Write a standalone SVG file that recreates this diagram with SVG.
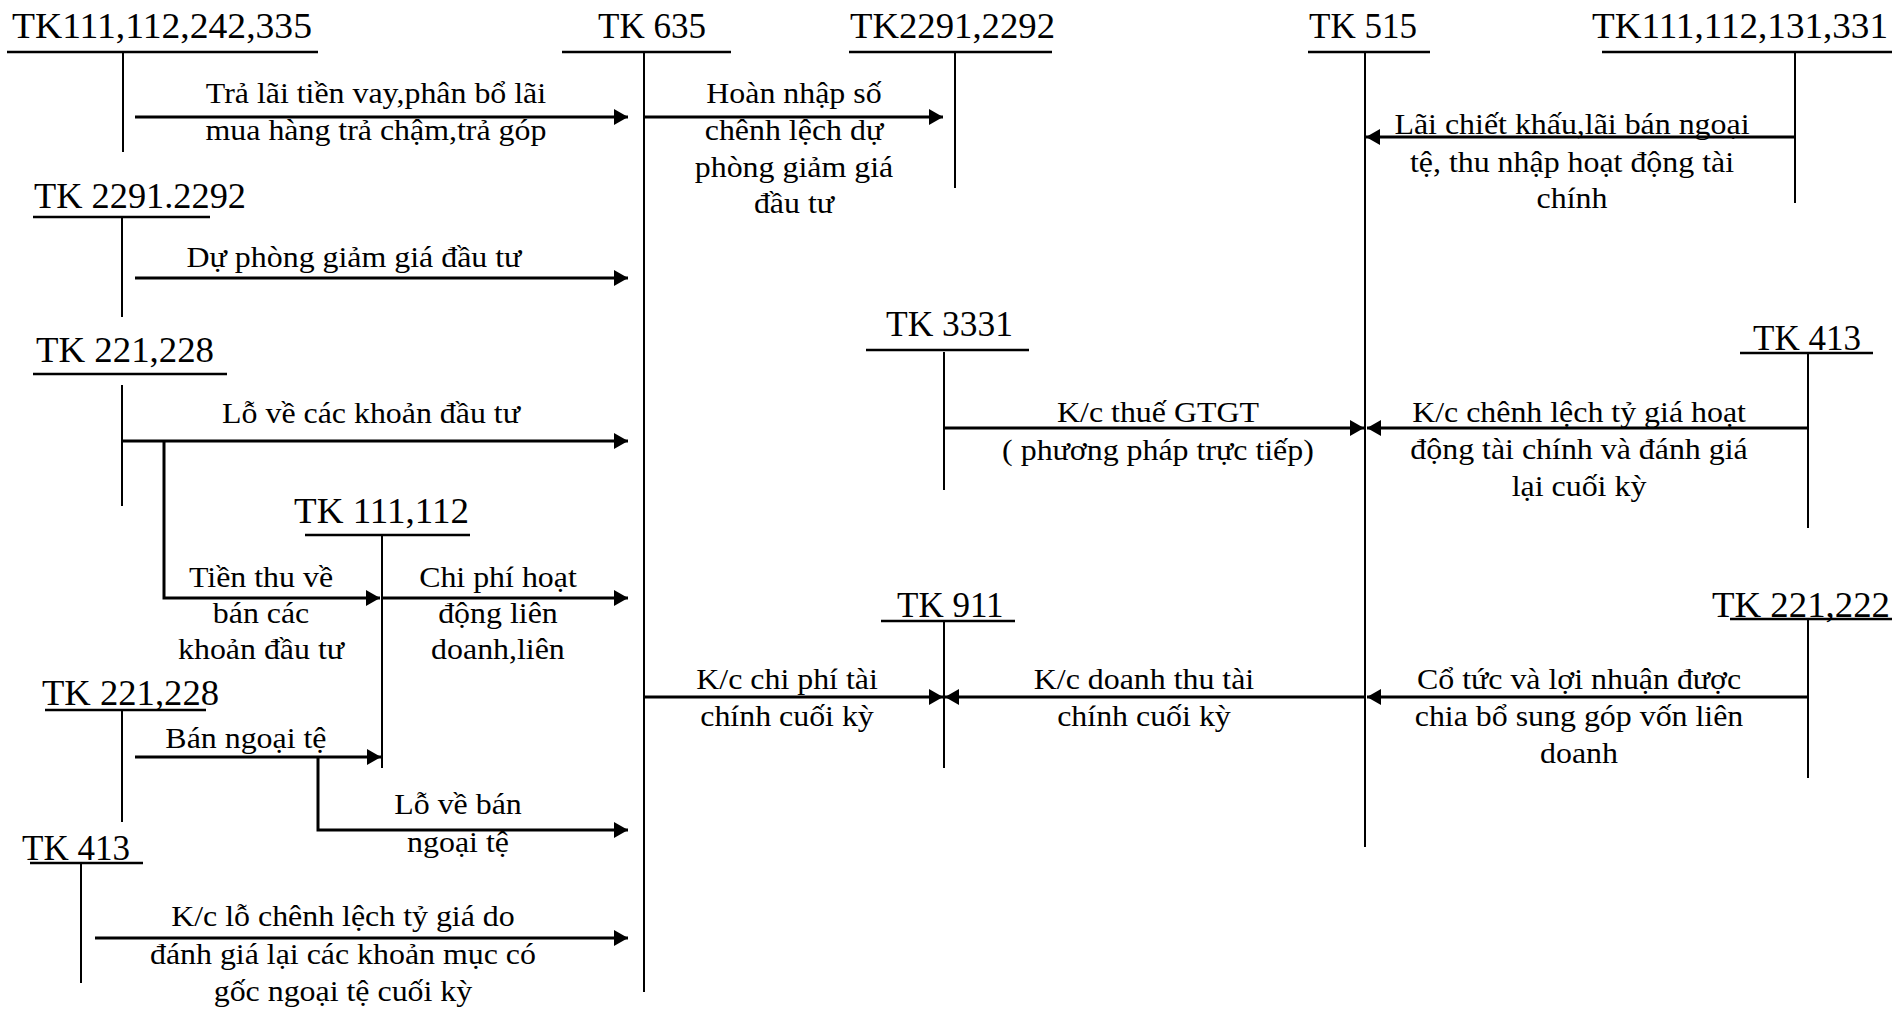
<svg xmlns="http://www.w3.org/2000/svg" width="1892" height="1009" viewBox="0 0 1892 1009">
<style>
text{font-family:"Liberation Serif","Times New Roman",serif;fill:#000}
.t{font-size:35px}
.l{font-size:29px;text-anchor:middle}
.u{stroke:#000;stroke-width:2.5}
.v{stroke:#000;stroke-width:2}
.a{stroke:#000;stroke-width:3;fill:none}
.ae{marker-end:url(#ah)}
</style>
<defs>
<marker id="ah" markerUnits="userSpaceOnUse" markerWidth="16" markerHeight="18" refX="14" refY="8" orient="auto">
<path d="M0,0 L14,8 L0,16 z" fill="#000"/>
</marker>
</defs>
<rect width="1892" height="1009" fill="#fff"/>

<g id="tk111-112-242-335"><text class="t" x="12" y="38" textLength="300" lengthAdjust="spacingAndGlyphs">TK111,112,242,335</text><line class="u" x1="7" y1="52" x2="318" y2="52"/><line class="v" x1="123" y1="52" x2="123" y2="152"/></g>
<g id="tk635"><text class="t" x="598" y="38">TK 635</text><line class="u" x1="562" y1="52" x2="731" y2="52"/><line class="v" x1="644" y1="52" x2="644" y2="992"/></g>
<g id="tk2291-2292-top"><text class="t" x="850" y="38" textLength="205" lengthAdjust="spacingAndGlyphs">TK2291,2292</text><line class="u" x1="849" y1="52" x2="1052" y2="52"/><line class="v" x1="955" y1="52" x2="955" y2="188"/></g>
<g id="tk515"><text class="t" x="1309" y="38">TK 515</text><line class="u" x1="1308" y1="52" x2="1430" y2="52"/><line class="v" x1="1365" y1="52" x2="1365" y2="847"/></g>
<g id="tk111-112-131-331"><text class="t" x="1592" y="38" textLength="296" lengthAdjust="spacingAndGlyphs">TK111,112,131,331</text><line class="u" x1="1602" y1="52" x2="1892" y2="52"/><line class="v" x1="1795" y1="52" x2="1795" y2="203"/></g>
<g id="tk2291-2292-left"><text class="t" x="34" y="208" textLength="212" lengthAdjust="spacingAndGlyphs">TK 2291.2292</text><line class="u" x1="33" y1="217" x2="210" y2="217"/><line class="v" x1="122" y1="217" x2="122" y2="317"/></g>
<g id="tk221-228-a"><text class="t" x="36" y="362" textLength="178" lengthAdjust="spacingAndGlyphs">TK 221,228</text><line class="u" x1="33" y1="374" x2="227" y2="374"/><line class="v" x1="122" y1="385" x2="122" y2="506"/></g>
<g id="tk111-112"><text class="t" x="294" y="523" textLength="175" lengthAdjust="spacingAndGlyphs">TK 111,112</text><line class="u" x1="305" y1="535" x2="470" y2="535"/><line class="v" x1="382" y1="535" x2="382" y2="768"/></g>
<g id="tk221-228-b"><text class="t" x="42" y="705" textLength="177" lengthAdjust="spacingAndGlyphs">TK 221,228</text><line class="u" x1="45" y1="710" x2="206" y2="710"/><line class="v" x1="122" y1="710" x2="122" y2="822"/></g>
<g id="tk413-left"><text class="t" x="22" y="860">TK 413</text><line class="u" x1="30" y1="863" x2="143" y2="863"/><line class="v" x1="81" y1="863" x2="81" y2="983"/></g>
<g id="tk3331"><text class="t" x="886" y="336" textLength="127" lengthAdjust="spacingAndGlyphs">TK 3331</text><line class="u" x1="866" y1="350" x2="1029" y2="350"/><line class="v" x1="944" y1="352" x2="944" y2="490"/></g>
<g id="tk413-right"><text class="t" x="1753" y="350">TK 413</text><line class="u" x1="1740" y1="353" x2="1873" y2="353"/><line class="v" x1="1808" y1="353" x2="1808" y2="528"/></g>
<g id="tk911"><text class="t" x="897" y="617">TK 911</text><line class="u" x1="881" y1="621" x2="1015" y2="621"/><line class="v" x1="944" y1="621" x2="944" y2="768"/></g>
<g id="tk221-222"><text class="t" x="1712" y="617" textLength="178" lengthAdjust="spacingAndGlyphs">TK 221,222</text><line class="u" x1="1730" y1="619" x2="1892" y2="619"/><line class="v" x1="1808" y1="619" x2="1808" y2="778"/></g>

<g id="connectors">
<path class="a ae" d="M135,117 H628"/>
<path class="a ae" d="M644,117 H943"/>
<path class="a ae" d="M1795,137 H1366"/>
<path class="a ae" d="M135,278 H628"/>
<path class="a ae" d="M122,441 H628"/>
<path class="a ae" d="M164,441 V598 H380"/>
<path class="a ae" d="M382,598 H628"/>
<path class="a ae" d="M135,757 H381"/>
<path class="a ae" d="M318,757 V830 H628"/>
<path class="a ae" d="M95,938 H628"/>
<path class="a ae" d="M944,428 H1364"/>
<path class="a ae" d="M1808,428 H1367"/>
<path class="a ae" d="M644,697 H943"/>
<path class="a ae" d="M1365,697 H945"/>
<path class="a ae" d="M1808,697 H1367"/>
</g>

<g id="labels" transform="scale(1.1,1)">
<text class="l" x="341.8" y="103">Trả lãi tiền vay,phân bổ lãi</text>
<text class="l" x="341.8" y="140">mua hàng trả chậm,trả góp</text>
<text class="l" x="721.8" y="103">Hoàn nhập số</text>
<text class="l" x="721.8" y="140">chênh lệch dự</text>
<text class="l" x="721.8" y="177">phòng giảm giá</text>
<text class="l" x="721.8" y="213">đầu tư</text>
<text class="l" x="1429.1" y="134">Lãi chiết khấu,lãi bán ngoại</text>
<text class="l" x="1429.1" y="172">tệ, thu nhập hoạt động tài</text>
<text class="l" x="1429.1" y="208">chính</text>
<text class="l" x="321.8" y="267">Dự phòng giảm giá đầu tư</text>
<text class="l" x="337.3" y="423">Lỗ về các khoản đầu tư</text>
<text class="l" x="237.3" y="587">Tiền thu về</text>
<text class="l" x="237.3" y="623">bán các</text>
<text class="l" x="237.3" y="659">khoản đầu tư</text>
<text class="l" x="452.7" y="587">Chi phí hoạt</text>
<text class="l" x="452.7" y="623">động liên</text>
<text class="l" x="452.7" y="659">doanh,liên</text>
<text class="l" x="223.6" y="748">Bán ngoại tệ</text>
<text class="l" x="416.4" y="814">Lỗ về bán</text>
<text class="l" x="416.4" y="852">ngoại tệ</text>
<text class="l" x="311.8" y="926">K/c lỗ chênh lệch tỷ giá do</text>
<text class="l" x="311.8" y="964">đánh giá lại các khoản mục có</text>
<text class="l" x="311.8" y="1001">gốc ngoại tệ cuối kỳ</text>
<text class="l" x="1052.7" y="422">K/c thuế GTGT</text>
<text class="l" x="1052.7" y="460">( phương pháp trực tiếp)</text>
<text class="l" x="1435.5" y="422">K/c chênh lệch tỷ giá hoạt</text>
<text class="l" x="1435.5" y="459">động tài chính và đánh giá</text>
<text class="l" x="1435.5" y="496">lại cuối kỳ</text>
<text class="l" x="715.5" y="689">K/c chi phí tài</text>
<text class="l" x="715.5" y="726">chính cuối kỳ</text>
<text class="l" x="1040" y="689">K/c doanh thu tài</text>
<text class="l" x="1040" y="726">chính cuối kỳ</text>
<text class="l" x="1435.5" y="689">Cổ tức và lợi nhuận được</text>
<text class="l" x="1435.5" y="726">chia bổ sung góp vốn liên</text>
<text class="l" x="1435.5" y="763">doanh</text>
</g>
</svg>
